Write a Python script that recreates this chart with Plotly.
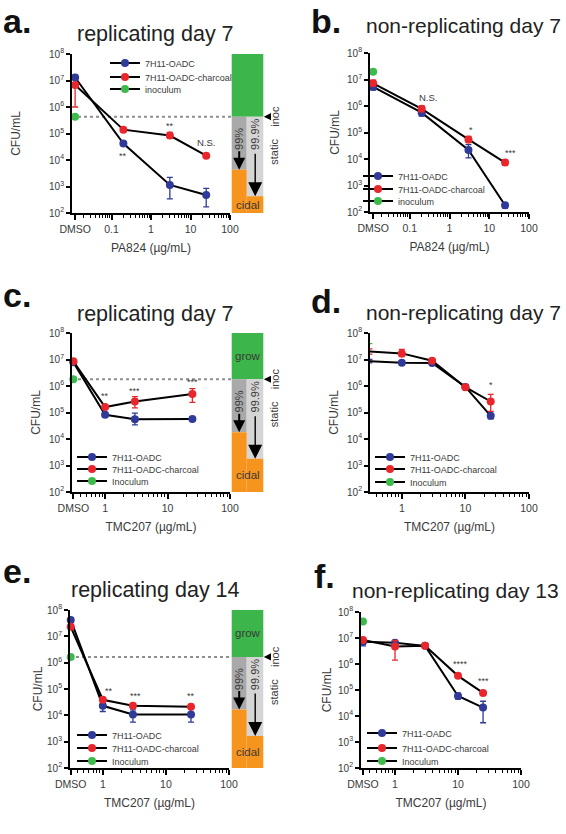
import math
import plotly.graph_objects as go

W, H = 566, 834

# ---------------------------------------------------------------- data
DMSO_PA824 = 0.012
DMSO_TMC207 = 0.31

PA_TICKVALS = [DMSO_PA824, 0.1, 1, 10, 100]
PA_TICKTEXT = ["DMSO", "0.1", "1", "10", "100"]
TMC_TICKVALS = [DMSO_TMC207, 1, 10, 100]
TMC_TICKTEXT = ["DMSO", "1", "10", "100"]
Y_TICKVALS = [1e2, 1e3, 1e4, 1e5, 1e6, 1e7, 1e8]
Y_TICKTEXT = ["10<sup>2</sup>", "10<sup>3</sup>", "10<sup>4</sup>", "10<sup>5</sup>",
              "10<sup>6</sup>", "10<sup>7</sup>", "10<sup>8</sup>"]

SERIES = ["7H11-OADC", "7H11-OADC-charcoal"]

# a. PA824 replicating day 7
A_CONC = [DMSO_PA824, 0.2, 3, 25]
A_OADC = [1.3e7, 4.2e4, 1.15e3, 4.8e2]
A_OADC_LO = [1.1e7, 3.6e4, 3.4e2, 1.7e2]
A_OADC_HI = [1.6e7, 4.8e4, 2.2e3, 8.5e2]
A_CHAR = [6.8e6, 1.4e5, 8.4e4, 1.45e4]
A_CHAR_LO = [1.0e6, 1.25e5, 6.5e4, 1.3e4]
A_CHAR_HI = [8.0e6, 1.6e5, 1.1e5, 1.6e4]
A_INOC = 4.3e5
A_SIG = [(0.2, "**"), (3, "**"), (25, "N.S.")]

# b. PA824 non-replicating day 7
B_CONC = [DMSO_PA824, 0.2, 3, 25]
B_OADC = [5.3e6, 5.6e5, 2.2e4, 1.8e2]
B_OADC_LO = [4.0e6, 4.2e5, 1.1e4, 1.4e2]
B_OADC_HI = [6.5e6, 7.5e5, 3.5e4, 2.2e2]
B_CHAR = [7.2e6, 7.8e5, 5.5e4, 7.3e3]
B_CHAR_LO = [5.8e6, 6.2e5, 4.2e4, 5.8e3]
B_CHAR_HI = [9.5e6, 1.0e6, 7.2e4, 9.0e3]
B_INOC = 1.95e7
B_SIG = [(0.2, "N.S."), (3, "*"), (25, "***")]

# c. TMC207 replicating day 7
C_CONC = [DMSO_TMC207, 1, 3, 25]
C_OADC = [7.9e6, 8.2e4, 5.6e4, 5.7e4]
C_OADC_LO = [7.0e6, 7.0e4, 3.4e4, 5.2e4]
C_OADC_HI = [9.0e6, 9.5e4, 9.5e4, 6.2e4]
C_CHAR = [8.5e6, 1.6e5, 2.6e5, 5.0e5]
C_CHAR_LO = [7.5e6, 1.4e5, 1.5e5, 2.4e5]
C_CHAR_HI = [9.8e6, 1.8e5, 4.0e5, 8.0e5]
C_INOC = 1.8e6
C_SIG = [(1, "**"), (3, "***"), (25, "***")]

# d. TMC207 non-replicating day 7
D_CONC = [DMSO_TMC207, 1, 3, 10, 25]
D_OADC = [8.6e6, 7.5e6, 7.4e6, 9.2e5, 7.5e4]
D_OADC_LO = [7.5e6, 6.5e6, 6.5e6, 8.0e5, 5.8e4]
D_OADC_HI = [1.0e7, 8.5e6, 8.2e6, 1.05e6, 8.8e4]
D_CHAR = [2.0e7, 1.7e7, 9.0e6, 9.0e5, 2.6e5]
D_CHAR_LO = [1.6e7, 1.3e7, 8.0e6, 8.0e5, 1.1e5]
D_CHAR_HI = [2.5e7, 2.4e7, 1.0e7, 1.0e6, 4.8e5]
D_INOC = 4.0e7
D_SIG = [(25, "*")]

# e. TMC207 replicating day 14
E_CONC = [DMSO_TMC207, 1, 3, 25]
E_OADC = [4.2e7, 2.3e4, 1.07e4, 1.07e4]
E_OADC_LO = [3.5e7, 1.4e4, 5.5e3, 5.5e3]
E_OADC_HI = [5.0e7, 3.9e4, 1.6e4, 2.0e4]
E_CHAR = [2.3e7, 3.9e4, 2.3e4, 2.1e4]
E_CHAR_LO = [2.0e7, 3.4e4, 2.0e4, 1.8e4]
E_CHAR_HI = [2.7e7, 4.5e4, 2.7e4, 2.5e4]
E_INOC = 1.65e6
E_SIG = [(1, "**"), (3, "***"), (25, "**")]

# f. TMC207 non-replicating day 13
F_CONC = [DMSO_TMC207, 1, 3, 10, 25]
F_OADC = [7.2e6, 6.6e6, 5.0e6, 5.9e4, 2.1e4]
F_OADC_LO = [5.0e6, 5.5e6, 4.5e6, 4.5e4, 5.5e3]
F_OADC_HI = [9.0e6, 7.5e6, 5.5e6, 7.5e4, 3.7e4]
F_CHAR = [8.4e6, 4.7e6, 5.0e6, 3.5e5, 7.7e4]
F_CHAR_LO = [7.0e6, 1.4e6, 4.5e6, 3.1e5, 6.5e4]
F_CHAR_HI = [1.0e7, 8.0e6, 5.5e6, 3.9e5, 9.0e4]
F_INOC = 4.3e7
F_SIG = [(10, "****"), (25, "***")]

LETTERS = ["a.", "b.", "c.", "d.", "e.", "f."]
TITLES = ["replicating day 7", "non-replicating day 7", "replicating day 7",
          "non-replicating day 7", "replicating day 14", "non-replicating day 13"]
XTITLES = ["PA824 (µg/mL)", "PA824 (µg/mL)", "TMC207 (µg/mL)",
           "TMC207 (µg/mL)", "TMC207 (µg/mL)", "TMC207 (µg/mL)"]
INOC_NAMES = ["inoculum", "inoculum", "Inoculum", "Inoculum", "Inoculum", "Inoculum"]
BAR_TEXT = ["grow", "99%", "99.9%", "cidal", "inoc", "static"]

# ---------------------------------------------------------------- style / layout
FONT = "Liberation Sans, Arial, Helvetica, sans-serif"
BLUE = "#2f3a99"
RED = "#e8262b"
GREEN = "#3dba4c"
BAR_GREEN = "#3cb54a"
BAR_ORANGE = "#f7941d"
BAR_DARK = "#a9a9a9"
BAR_LIGHT = "#d5d5d5"
TXT = "#3a3a3a"

# pixel boxes: x_left(axis), x_right, y_top(1e8), y_bottom(1e2)
BOX = [(72, 230, 54, 213), (370, 529, 53, 212), (72, 230, 333, 492),
       (370, 529, 333, 492), (70, 229, 610, 768), (361, 521, 612, 768)]
XR0 = [-2.0, -2.0, -0.53, -0.5, -0.52, -0.54]
YT_STANDOFF = [26, 5, 6, 6, 2, 4]
XT_STANDOFF = [10, 10, 10, 10, 10, 10]
TITLE_POS = [(155, 34), (463, 25), (155, 314), (463, 312), (155, 590), (455, 590)]
TITLE_SIZE = [21.5, 21, 21.5, 21, 21.5, 21]
LETTER_POS = [(1, 21), (309, 21), (1, 295), (309, 301), (1, 571), (312, 576)]
LEG_TEXT_X = [145, 398, 112, 410, 112, 402]
LEG_ROWS = [(63, 77, 89), (176, 189, 201), (457, 469, 481),
            (457, 469, 482), (735, 748, 761), (733, 748, 761)]
# significance label offsets (dx, dy px) relative to the charcoal/OADC point
SIG_OFF = [[("o", 0, -11), ("c", 0, 12), ("c", 0, 13)],
           [("c", 6, 11), ("c", 3, 11), ("c", 5, 12)],
           [("c", 0, 13), ("c", 0, 12), ("c", 0, 14)],
           [("c", 0, 18)],
           [("c", 6, 11), ("c", 3, 12), ("c", 0, 13)],
           [("c", 2, 14), ("c", 0, 14)]]
BAR_X = (231.7, 246.7, 263.3)

PANEL_DATA = [
    (A_CONC, A_OADC, A_OADC_LO, A_OADC_HI, A_CHAR, A_CHAR_LO, A_CHAR_HI, A_INOC, A_SIG),
    (B_CONC, B_OADC, B_OADC_LO, B_OADC_HI, B_CHAR, B_CHAR_LO, B_CHAR_HI, B_INOC, B_SIG),
    (C_CONC, C_OADC, C_OADC_LO, C_OADC_HI, C_CHAR, C_CHAR_LO, C_CHAR_HI, C_INOC, C_SIG),
    (D_CONC, D_OADC, D_OADC_LO, D_OADC_HI, D_CHAR, D_CHAR_LO, D_CHAR_HI, D_INOC, D_SIG),
    (E_CONC, E_OADC, E_OADC_LO, E_OADC_HI, E_CHAR, E_CHAR_LO, E_CHAR_HI, E_INOC, E_SIG),
    (F_CONC, F_OADC, F_OADC_LO, F_OADC_HI, F_CHAR, F_CHAR_LO, F_CHAR_HI, F_INOC, F_SIG),
]
HAS_BAR = [True, False, True, False, True, False]


def fx(p):
    return p / W


def fy(p):
    return 1 - p / H


def lg(v):
    return math.log10(v)


fig = go.Figure()
annotations = []
shapes = []
layout = {}

for i, (conc, oadc, olo, ohi, char, clo, chi, inoc, sig) in enumerate(PANEL_DATA):
    n = i + 1
    xa = "x" if n == 1 else f"x{n}"
    ya = "y" if n == 1 else f"y{n}"
    xk = "xaxis" if n == 1 else f"xaxis{n}"
    yk = "yaxis" if n == 1 else f"yaxis{n}"
    x0, x1, yt, yb = BOX[i]
    pa = i < 2
    tickvals = PA_TICKVALS if pa else TMC_TICKVALS
    ticktext = PA_TICKTEXT if pa else TMC_TICKTEXT
    first = -2 if pa else -1
    minor_vals = [m * 10 ** k for k in range(first, 2) for m in range(2, 10)
                  if lg(m * 10 ** k) > XR0[i] + 0.08]

    layout[xk] = dict(
        type="log", domain=[fx(x0), fx(x1)], range=[XR0[i], 2], anchor=ya,
        automargin=False,
        showline=True, linecolor="black", linewidth=1.8, mirror=False,
        ticks="outside", ticklen=5, tickwidth=1.5, tickcolor="black",
        tickmode="array", tickvals=tickvals, ticktext=ticktext,
        tickfont=dict(size=10.5, color=TXT, family=FONT),
        minor=dict(tickmode="array", tickvals=minor_vals, ticks="outside",
                   ticklen=3, tickwidth=1, tickcolor="black"),
        showgrid=False, zeroline=False,
        title=dict(text=XTITLES[i], font=dict(size=12, color=TXT, family=FONT),
                   standoff=XT_STANDOFF[i]),
    )
    layout[yk] = dict(
        type="log", domain=[fy(yb), fy(yt)], range=[2, 8], anchor=xa,
        automargin=False,
        showline=True, linecolor="black", linewidth=1.8,
        ticks="outside", ticklen=4, tickwidth=1.5, tickcolor="black",
        tickmode="array", tickvals=Y_TICKVALS, ticktext=Y_TICKTEXT,
        tickfont=dict(size=10, color=TXT, family=FONT),
        showgrid=False, zeroline=False,
        title=dict(text="CFU/mL", font=dict(size=12, color=TXT, family=FONT),
                   standoff=YT_STANDOFF[i]),
    )

    series = [
        (SERIES[0], conc, oadc, olo, ohi, BLUE),
        (SERIES[1], conc, char, clo, chi, RED),
        (INOC_NAMES[i], [conc[0]], [inoc], [inoc], [inoc], GREEN),
    ]
    for j, (name, xs, ys, lo, hi, col) in enumerate(series):
        idx = 3 * i + j + 1
        lname = "legend" if idx == 1 else f"legend{idx}"
        fig.add_trace(go.Scatter(
            x=xs, y=ys, name=name, mode="lines+markers",
            xaxis=xa, yaxis=ya, legend=lname, cliponaxis=False,
            line=dict(color="black", width=2),
            marker=dict(color=col, size=8, line=dict(width=0)),
            error_y=dict(type="data", symmetric=False,
                         array=[h - v for h, v in zip(hi, ys)],
                         arrayminus=[v - l for v, l in zip(ys, lo)],
                         color=col, thickness=1.3, width=3),
        ))
        layout[lname] = dict(
            x=fx(LEG_TEXT_X[i] - 40), y=fy(LEG_ROWS[i][j]), xanchor="left",
            yanchor="middle", bgcolor="rgba(0,0,0,0)", borderwidth=0,
            font=dict(size=9, color=TXT, family=FONT), itemwidth=30,
            tracegroupgap=0,
        )

    # significance labels
    for (c, txt), (ser, dx, dy) in zip(sig, SIG_OFF[i]):
        vals = char if ser == "c" else oadc
        v = vals[conc.index(c)]
        star = txt.startswith("*")
        annotations.append(dict(
            x=lg(c), y=lg(v), xref=xa, yref=ya, text=txt, showarrow=False,
            xshift=dx, yshift=dy - (2 if star else 0), xanchor="center", yanchor="middle",
            font=dict(size=9.5 if not star else 9, color=TXT, family=FONT),
        ))

    # titles / letters
    tx, ty = TITLE_POS[i]
    annotations.append(dict(x=fx(tx), y=fy(ty), xref="paper", yref="paper",
                            text=TITLES[i], showarrow=False, xanchor="center",
                            yanchor="middle",
                            font=dict(size=TITLE_SIZE[i], color="#222222", family=FONT)))
    lx, ly = LETTER_POS[i]
    annotations.append(dict(x=fx(lx), y=fy(ly), xref="paper", yref="paper",
                            text="<b>" + LETTERS[i] + "</b>", showarrow=False,
                            xanchor="left", yanchor="middle",
                            font=dict(size=34, color="#111111", family=FONT)))

    if HAS_BAR[i]:
        # dotted inoculum line
        shapes.append(dict(type="line", xref="paper", yref=ya,
                           x0=fx(x0), x1=fx(BAR_X[0]), y0=inoc, y1=inoc,
                           line=dict(color="#8f8f8f", width=2, dash="dot"),
                           layer="below"))
        bl, bm, br = BAR_X
        rects = [
            (bl, br, inoc, 1e8, BAR_GREEN),
            (bl, bm, inoc / 100, inoc, BAR_DARK),
            (bm, br, inoc / 1000, inoc, BAR_LIGHT),
            (bl, bm, 1e2, inoc / 100, BAR_ORANGE),
            (bm, br, 1e2, inoc / 1000, BAR_ORANGE),
        ]
        for (ax0, ax1, ay0, ay1, col) in rects:
            shapes.append(dict(type="rect", xref="paper", yref=ya,
                               x0=fx(ax0), x1=fx(ax1), y0=ay0, y1=ay1,
                               fillcolor=col, line=dict(width=0), layer="above"))
        tf = dict(size=11, color=TXT, family=FONT)
        if i > 0:
            annotations.append(dict(x=fx((bl + br) / 2), y=(lg(inoc) + 8) / 2,
                                    xref="paper", yref=ya, text=BAR_TEXT[0],
                                    showarrow=False, font=dict(size=11.5, color=TXT, family=FONT)))
        annotations.append(dict(x=fx((bl + br) / 2), y=(lg(inoc / 1000) + 2) / 2,
                                xref="paper", yref=ya, text=BAR_TEXT[3],
                                showarrow=False, font=dict(size=11.5, color=TXT, family=FONT)))
        annotations.append(dict(x=fx((bl + bm) / 2), y=lg(inoc), yshift=-22,
                                xref="paper", yref=ya, text=BAR_TEXT[1], textangle=-90,
                                showarrow=False, font=tf))
        annotations.append(dict(x=fx(bm + 8.5), y=lg(inoc), yshift=-18,
                                xref="paper", yref=ya, text=BAR_TEXT[2], textangle=-90,
                                showarrow=False, font=tf))
        annotations.append(dict(x=fx(275), y=lg(inoc),
                                xref="paper", yref=ya, text=BAR_TEXT[4], textangle=-90,
                                showarrow=False, font=tf))
        annotations.append(dict(x=fx(274), y=lg(inoc), yshift=-35,
                                xref="paper", yref=ya, text=BAR_TEXT[5], textangle=-90,
                                showarrow=False, font=tf))
        # arrows
        annotations.append(dict(x=fx((bl + bm) / 2), y=lg(inoc / 100), xref="paper",
                                yref=ya, text="", showarrow=True, ax=0, ay=-20,
                                arrowhead=2, arrowsize=1.2, arrowwidth=2,
                                arrowcolor="black", standoff=0))
        annotations.append(dict(x=fx(bm + 8.5), y=lg(inoc / 1000), xref="paper",
                                yref=ya, text="", showarrow=True, ax=0, ay=-44,
                                arrowhead=2, arrowsize=2.0, arrowwidth=1.4,
                                arrowcolor="black", standoff=0))
        annotations.append(dict(x=fx(br + 0.5), y=lg(inoc), xref="paper",
                                yref=ya, text="", showarrow=True, ax=8, ay=0,
                                arrowhead=2, arrowsize=1.2, arrowwidth=1.2,
                                arrowcolor="black", standoff=0))

fig.update_layout(
    template="none",
    width=W, height=H, autosize=False,
    margin=dict(l=0, r=0, t=0, b=0, pad=0),
    paper_bgcolor="white", plot_bgcolor="rgba(0,0,0,0)",
    font=dict(family=FONT, color=TXT),
    showlegend=True,
    annotations=annotations, shapes=shapes,
    **layout,
)

fig.write_html(
    "out.html",
    config={"displayModeBar": False},
    post_script="document.body.style.margin='0';document.body.style.padding='0';"
                "document.body.style.overflow='hidden';",
)
